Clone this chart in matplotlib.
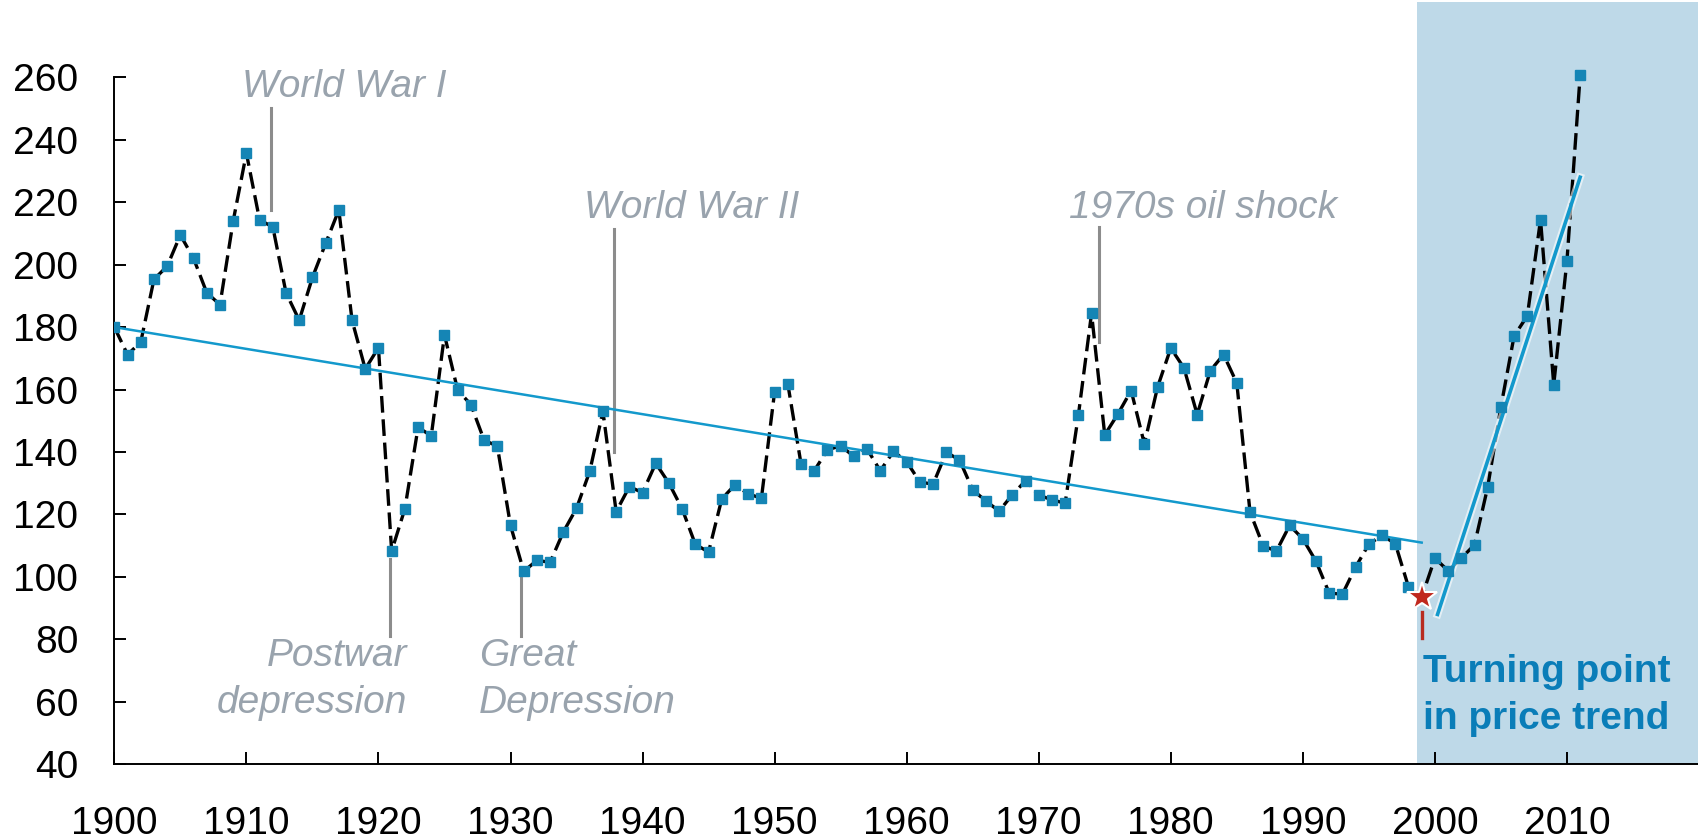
import numpy as np
import matplotlib
matplotlib.use("Agg")
import matplotlib.pyplot as plt
import matplotlib.patheffects as pe

plt.rcParams['font.family'] = ['Liberation Sans', 'DejaVu Sans']

# yearly index values
years = np.arange(1900, 2012)
values = [
    180.0, 171.2, 175.2, 195.3, 199.5, 209.5, 202.0, 191.0, 187.2, 214.0,
    235.7, 214.3, 212.1, 191.0, 182.2, 195.9, 206.8, 217.5, 182.2, 166.6,
    173.4, 108.3, 121.8, 147.9, 145.2, 177.5, 159.8, 155.2, 143.8, 141.9,
    116.5, 101.8, 105.3, 104.7, 114.4, 122.0, 133.8, 153.0, 120.9, 128.9,
    127.0, 136.4, 130.0, 121.8, 110.4, 108.0, 125.0, 129.5, 126.6, 125.2,
    159.3, 161.8, 136.2, 134.0, 140.7, 142.0, 138.6, 141.0, 134.0, 140.2,
    136.9, 130.4, 129.7, 139.9, 137.5, 127.9, 124.3, 121.1, 126.3, 130.8,
    126.2, 124.7, 123.6, 151.7, 184.4, 145.5, 152.2, 159.7, 142.6, 160.8,
    173.3, 166.9, 152.0, 166.1, 171.2, 162.1, 120.8, 109.9, 108.3, 116.5,
    112.2, 105.0, 94.8, 94.5, 103.2, 110.5, 113.3, 110.7, 96.8, 93.5,
    106.0, 102.0, 106.0, 110.3, 128.8, 154.5, 177.2, 183.6, 214.4, 161.6,
    201.2, 260.6,
]
values = np.array(values)

trend1_x = [1900, 1999]
trend1_y = [180, 111]
trend2_x = [2000.2, 2011]
trend2_y = [88, 228]

turn_year = 1999
turn_val = 93.5
shade_start = 1998.67

# label, text x, text y (last baseline), ha, line x, line top, line bottom
notes = [
    ("World War I", 1909.7, 253.8, 'left', 1911.9, 250.3, 217.5),
    ("World War II", 1935.6, 215.0, 'left', 1937.8, 211.4, 140.0),
    ("1970s oil shock", 1972.3, 215.0, 'left', 1974.6, 212.2, 175.3),
    ("Postwar\ndepression", 1922.15, 56.5, 'right', 1920.9, 105.7, 81.1),
    ("Great\nDepression", 1927.6, 56.5, 'left', 1930.8, 99.6, 81.1),
]

blue = '#1399cc'
grey_txt = '#99a3ad'

fig = plt.figure(figsize=(16.99, 8.40), dpi=100)
ax = fig.add_axes([0.0673, 0.0901, 0.9327, 0.9071])
ax.axvspan(shade_start, 2020, color='#bed9e8', lw=0, zorder=0)

ax.plot(years, values, color='black', lw=2.4, ls=(0, (5, 2)), zorder=2)
ax.plot(trend1_x, trend1_y, color=blue, lw=1.8, zorder=3)
ax.plot(trend2_x, trend2_y, color=blue, lw=2.6, zorder=3,
        path_effects=[pe.Stroke(linewidth=5.5, foreground='white', alpha=0.6), pe.Normal()])
ax.plot(years, values, ls='none', marker='s', ms=6.5, color='#1585b5', zorder=4)

# turning point marker
ax.plot([turn_year, turn_year], [80.4, 88.9], color='#b82c20', lw=2.4, zorder=5)
ax.plot(turn_year, turn_val, marker='*', ms=22, color='#c0281e',
        mec='white', mew=1.5, zorder=6)

for label, tx, ty, ha, lx, ly0, ly1 in notes:
    ax.plot([lx, lx], [ly0, ly1], color='#8c8c8c', lw=2.2, zorder=1)
    ax.text(tx, ty, label, ha=ha, va='baseline', multialignment=ha,
            fontsize=28, style='italic', color=grey_txt, linespacing=1.4)

ax.text(1999.1, 51.2, "Turning point\nin price trend", ha='left', va='baseline',
        fontsize=28, fontweight='bold', color='#0a7db8', linespacing=1.4)

ax.set_xlim(1900, 2020)
ax.set_ylim(40, 284)
xt = np.arange(1900, 2021, 10)
ax.set_xticks(xt, [str(t) if t < 2020 else '' for t in xt])
ax.set_yticks(np.arange(40, 261, 20))
ax.tick_params(axis='both', direction='in', length=8.5, width=1.4, labelsize=28)
ax.tick_params(axis='x', pad=30)
ax.tick_params(axis='y', pad=26)
for s in ['top', 'right']:
    ax.spines[s].set_visible(False)
ax.spines['left'].set_bounds(40, 260)
ax.spines['left'].set_linewidth(1.4)
ax.spines['bottom'].set_linewidth(1.4)
ax.set_facecolor('white')

fig.savefig('out.png', dpi=100)
